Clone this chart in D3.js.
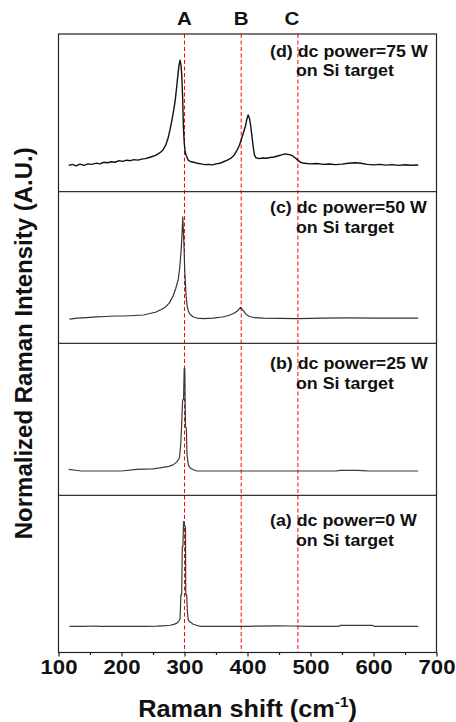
<!DOCTYPE html>
<html>
<head>
<meta charset="utf-8">
<script src="https://cdn.jsdelivr.net/npm/d3@7"></script>
<style>
body { margin: 0; background: #fff; }
text { font-family: "Liberation Sans", Arial, sans-serif; font-weight: bold; fill: #111; }
</style>
</head>
<body>
<script>
var svgWidth = 456;
var svgHeight = 722;

// peak markers
var markerShift = [300, 390, 480];
var markerName = ["A", "B", "C"];

// x axis ticks
var majorTicks = [100, 200, 300, 400, 500, 600, 700];
var minorTicks = [150, 250, 350, 450, 550, 650];

// panel text, top to bottom
var panelTitle = ["(d) dc power=75 W", "(c) dc power=50 W", "(b) dc power=25 W", "(a) dc power=0 W"];
var panelSub = ["on Si target", "on Si target", "on Si target", "on Si target"];

// (d) 75 W
var shiftD = [116, 122, 128, 134, 140, 147, 153, 160, 166, 172, 178, 184, 190, 196, 202, 208, 214, 220, 226, 232, 238, 244, 249, 254, 258, 262, 266, 270, 274, 277, 280, 283, 285.5, 288, 290, 291.5, 293, 294.5, 295.6, 297, 298.2, 299.5, 301, 303, 306, 310, 315, 320, 326, 332, 338, 344, 350, 356, 362, 368, 374, 379, 383, 387, 391, 394, 397, 399, 401, 403, 405, 407, 409, 411, 413, 418, 424, 430, 436, 442, 448, 454, 460, 464, 468, 472, 476, 480, 484, 490, 500, 510, 520, 530, 540, 550, 560, 570, 580, 590, 600, 610, 620, 630, 640, 650, 660, 671];
var intensityD = [0.00, 0.01, -0.005, 0.012, 0.0, 0.015, 0.01, 0.022, 0.015, 0.03, 0.025, 0.035, 0.03, 0.045, 0.038, 0.05, 0.045, 0.055, 0.05, 0.06, 0.065, 0.075, 0.085, 0.095, 0.11, 0.125, 0.15, 0.19, 0.26, 0.34, 0.43, 0.53, 0.63, 0.77, 0.89, 0.96, 1.00, 0.95, 0.86, 0.66, 0.38, 0.22, 0.13, 0.09, 0.05, 0.035, 0.03, 0.02, 0.015, 0.008, 0.01, 0.005, 0.015, 0.02, 0.035, 0.05, 0.07, 0.1, 0.14, 0.19, 0.26, 0.32, 0.38, 0.44, 0.48, 0.45, 0.38, 0.28, 0.18, 0.1, 0.075, 0.065, 0.07, 0.068, 0.075, 0.08, 0.09, 0.1, 0.11, 0.105, 0.1, 0.09, 0.07, 0.05, 0.03, 0.02, 0.015, 0.018, 0.01, 0.014, 0.008, 0.012, 0.02, 0.025, 0.02, 0.01, 0.005, 0.01, 0.003, 0.008, 0.0, 0.006, 0.002, 0.004];

// (c) 50 W
var shiftC = [117.5, 130, 145, 160, 175, 190, 205, 220, 235, 245, 255, 263, 270, 276, 282, 286, 290, 292.5, 294.5, 296, 297.3, 298.3, 299.3, 300.3, 301.3, 302.5, 304, 306, 309, 314, 320, 330, 345, 360, 370, 378, 384, 389, 393, 398, 403, 410, 425, 450, 480, 520, 560, 600, 640, 671];
var intensityC = [-0.01, 0.0, 0.005, 0.012, 0.015, 0.02, 0.02, 0.025, 0.03, 0.045, 0.06, 0.085, 0.11, 0.15, 0.22, 0.29, 0.38, 0.5, 0.66, 0.82, 1.00, 0.85, 0.70, 0.48, 0.36, 0.22, 0.13, 0.07, 0.035, 0.01, 0.0, -0.005, 0.0, 0.01, 0.025, 0.045, 0.07, 0.105, 0.075, 0.035, 0.015, 0.005, 0.0, -0.003, -0.005, 0.0, 0.002, 0.0, 0.0, 0.0];

// (b) 25 W
var shiftB = [116, 130, 137, 200, 224, 250, 261, 275, 282, 288, 292, 294, 295.5, 297, 298.5, 299.5, 300.5, 301.5, 303, 304, 306, 309, 315, 320, 400, 540, 548, 575, 590, 671];
var intensityB = [0.005, -0.005, -0.01, -0.01, 0.005, 0.01, 0.02, 0.035, 0.05, 0.08, 0.12, 0.25, 0.45, 0.69, 0.7, 1.0, 1.0, 0.44, 0.40, 0.15, 0.05, 0.02, 0.0, -0.01, -0.01, -0.01, -0.004, -0.004, -0.008, -0.01];

// (a) 0 W
var shiftA = [117.5, 140, 160, 166, 200, 240, 256, 265, 277, 283, 288, 291, 293, 294.3, 295.5, 296.5, 297.5, 298.5, 299.5, 300.5, 301.5, 302, 303.5, 304.6, 306, 309, 314, 320, 325, 360, 400, 450, 470, 500, 545, 547, 599, 601, 671];
var intensityA = [0.0, 0.0, 0.003, 0.0, 0.0, 0.0, 0.002, 0.005, 0.01, 0.018, 0.03, 0.05, 0.075, 0.3, 0.3, 0.76, 0.76, 1.0, 1.0, 0.95, 0.95, 0.3, 0.3, 0.14, 0.06, 0.04, 0.02, 0.008, 0.0, 0.0, 0.0, 0.005, 0.003, 0.0, 0.0, 0.008, 0.008, 0.0, 0.0];

var spectra = [
    { x: shiftD, y: intensityD, color: "#111", w: 1.4 },
    { x: shiftC, y: intensityC, color: "#333", w: 1.2 },
    { x: shiftB, y: intensityB, color: "#3a3a3a", w: 1.2 },
    { x: shiftA, y: intensityA, color: "#3a3a3a", w: 1.2 }
];

// layout
var plotLeft = 58.5;
var plotRight = 436.5;
var panelEdges = [34, 191.7, 343.3, 495.3, 652.5];
var titleDy = [22.5, 21.6, 26, 31];
var stretch = "scale(1.08,1)";

var svg = d3.select("body")
    .append("svg")
    .attr("width", svgWidth)
    .attr("height", svgHeight);

var xScale = d3.scaleLinear()
    .domain([100, 700])
    .range([plotLeft, plotRight]);

var plotTop = panelEdges[0];
var plotBottom = panelEdges[panelEdges.length - 1];

// dashed marker lines
svg.selectAll(".marker")
    .data(markerShift).enter()
    .append("line")
    .attr("x1", d => xScale(d))
    .attr("x2", d => xScale(d))
    .attr("y1", plotTop)
    .attr("y2", plotBottom)
    .attr("stroke", "#f00")
    .attr("stroke-width", 1)
    .attr("stroke-dasharray", "4,2.5");

svg.selectAll(".markerName")
    .data(markerName).enter()
    .append("text")
    .attr("transform", (d, i) => "translate(" + (xScale(markerShift[i]) - (i === 2 ? 6 : 0)) + ",25) " + stretch)
    .attr("text-anchor", "middle")
    .style("font-size", "19px")
    .text(d => d);

spectra.forEach((s, i) => {
    var yScale = d3.scaleLinear()
        .domain([-0.25, 1.25])
        .range([panelEdges[i + 1], panelEdges[i]]);

    var line = d3.line()
        .x(d => xScale(d[0]))
        .y(d => yScale(d[1]));

    svg.append("path")
        .datum(d3.zip(s.x, s.y))
        .attr("d", line)
        .attr("fill", "none")
        .attr("stroke", s.color)
        .attr("stroke-width", s.w)
        .attr("stroke-linejoin", "round");

    svg.append("text")
        .attr("transform", "translate(270," + (panelEdges[i] + titleDy[i]) + ") " + stretch)
        .style("font-size", "16.5px")
        .text(panelTitle[i]);

    svg.append("text")
        .attr("transform", "translate(296," + (panelEdges[i] + titleDy[i] + 19.5) + ") " + stretch)
        .style("font-size", "16.5px")
        .text(panelSub[i]);
});

// frame and separators
svg.append("rect")
    .attr("x", plotLeft)
    .attr("y", plotTop)
    .attr("width", plotRight - plotLeft)
    .attr("height", plotBottom - plotTop)
    .attr("fill", "none")
    .attr("stroke", "#222")
    .attr("stroke-width", 1.2);

svg.selectAll(".sep")
    .data(panelEdges.slice(1, -1)).enter()
    .append("line")
    .attr("x1", plotLeft)
    .attr("x2", plotRight)
    .attr("y1", d => d)
    .attr("y2", d => d)
    .attr("stroke", "#333")
    .attr("stroke-width", 1.2);

// x axis
var xAxis = svg.append("g")
    .attr("transform", "translate(0," + plotBottom + ")")
    .call(d3.axisBottom(xScale).tickValues(majorTicks).tickSize(4).tickPadding(2.5).tickFormat(d3.format("d")));
xAxis.select(".domain").remove();
xAxis.selectAll("line").attr("stroke", "#222").attr("stroke-width", 1.2);
xAxis.selectAll("text")
    .attr("transform", stretch)
    .style("font-size", "20.5px")
    .style("font-family", "'Liberation Sans', Arial, sans-serif")
    .style("font-weight", "bold")
    .attr("fill", "#111");

var xMinor = svg.append("g")
    .attr("transform", "translate(0," + plotBottom + ")")
    .call(d3.axisBottom(xScale).tickValues(minorTicks).tickSize(2.5).tickFormat(""));
xMinor.select(".domain").remove();
xMinor.selectAll("line").attr("stroke", "#222").attr("stroke-width", 1.2);

// axis titles
var xTitle = svg.append("text")
    .attr("transform", "translate(" + ((plotLeft + plotRight) / 2) + ",716.5) scale(1.1,1)")
    .attr("text-anchor", "middle")
    .style("font-size", "23px");
xTitle.append("tspan").text("Raman shift (cm");
xTitle.append("tspan").attr("dy", -10).style("font-size", "14px").text("-1");
xTitle.append("tspan").attr("dy", 10).text(")");

svg.append("text")
    .attr("transform", "translate(31.5," + ((plotTop + plotBottom) / 2) + ") rotate(-90)")
    .attr("text-anchor", "middle")
    .style("font-size", "24px")
    .text("Normalized Raman Intensity (A.U.)");
</script>
</body>
</html>
